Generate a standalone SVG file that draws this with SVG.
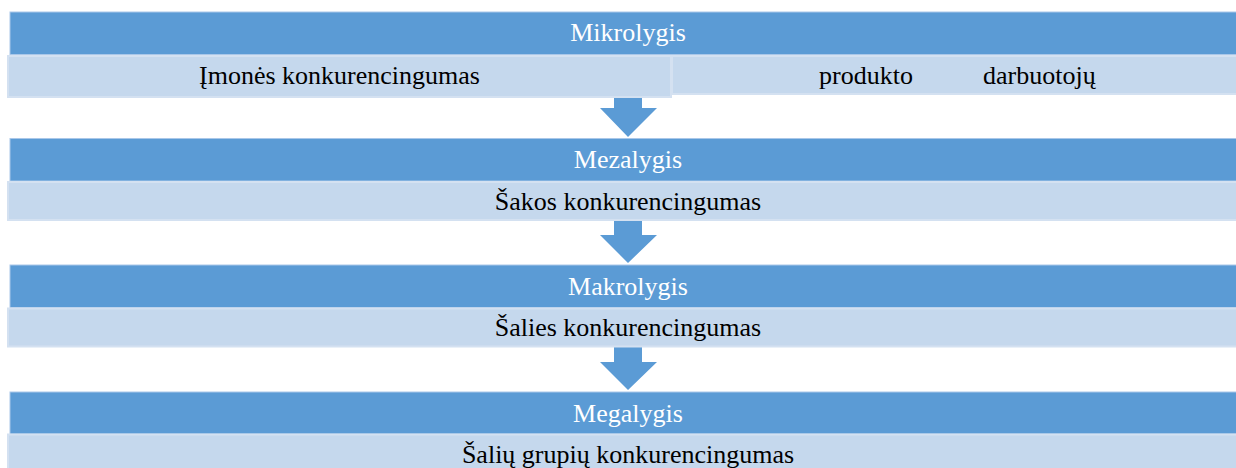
<svg xmlns="http://www.w3.org/2000/svg" width="1236" height="468" viewBox="0 0 1236 468">
<style>
.dark{fill:#5b9bd5;stroke:#a9c7e9;stroke-width:1}
.light{fill:#c5d8ed;stroke:#d4e1f1;stroke-width:2}
.arrow{fill:#5b9bd5}
.w{fill:#ffffff;text-anchor:middle}
.b{fill:#000000;text-anchor:middle}
.s{fill:#000000;text-anchor:start}
</style>
<rect width="1236" height="468" fill="#ffffff"/>
<g id="connectors">
<path class="arrow" d="M614,95 H642 V108 H657 L628,137 L600,108 H614 Z"/>
<path class="arrow" d="M614,220 H642 V235 H657 L628,263 L600,235 H614 Z"/>
<path class="arrow" d="M614,347 H642 V362 H657 L628,390 L600,362 H614 Z"/>
</g>
<g font-family="'Liberation Serif', 'Times New Roman', 'DejaVu Serif', serif" font-size="26">
<g id="mikrolygis">
<rect class="dark" x="10" y="12" width="1240" height="42.5"/>
<text class="w" x="628" y="41">Mikrolygis</text>
</g>
<g id="imones">
<rect class="light" x="8" y="56" width="663" height="41"/>
<text class="b" x="339.5" y="84">Įmonės konkurencingumas</text>
</g>
<g id="produkto">
<rect class="light" x="672" y="56" width="580" height="38"/>
<text class="s" x="819" y="84">produkto</text>
<text class="s" x="983" y="84">darbuotojų</text>
</g>
<g id="mezalygis">
<rect class="dark" x="10" y="138.5" width="1240" height="42.5"/>
<text class="w" x="628" y="167.5">Mezalygis</text>
</g>
<g id="sakos">
<rect class="light" x="8" y="182" width="1250" height="38"/>
<text class="b" x="628" y="210">Šakos konkurencingumas</text>
</g>
<g id="makrolygis">
<rect class="dark" x="10" y="265" width="1240" height="42.5"/>
<text class="w" x="628" y="294.5">Makrolygis</text>
</g>
<g id="salies">
<rect class="light" x="8" y="308.5" width="1250" height="38"/>
<text class="b" x="628" y="336">Šalies konkurencingumas</text>
</g>
<g id="megalygis">
<rect class="dark" x="10" y="392" width="1240" height="42"/>
<text class="w" x="628" y="421.5">Megalygis</text>
</g>
<g id="saliu">
<rect class="light" x="8" y="434.5" width="1250" height="40"/>
<text class="b" x="628" y="462.5">Šalių grupių konkurencingumas</text>
</g>
</g>
</svg>
